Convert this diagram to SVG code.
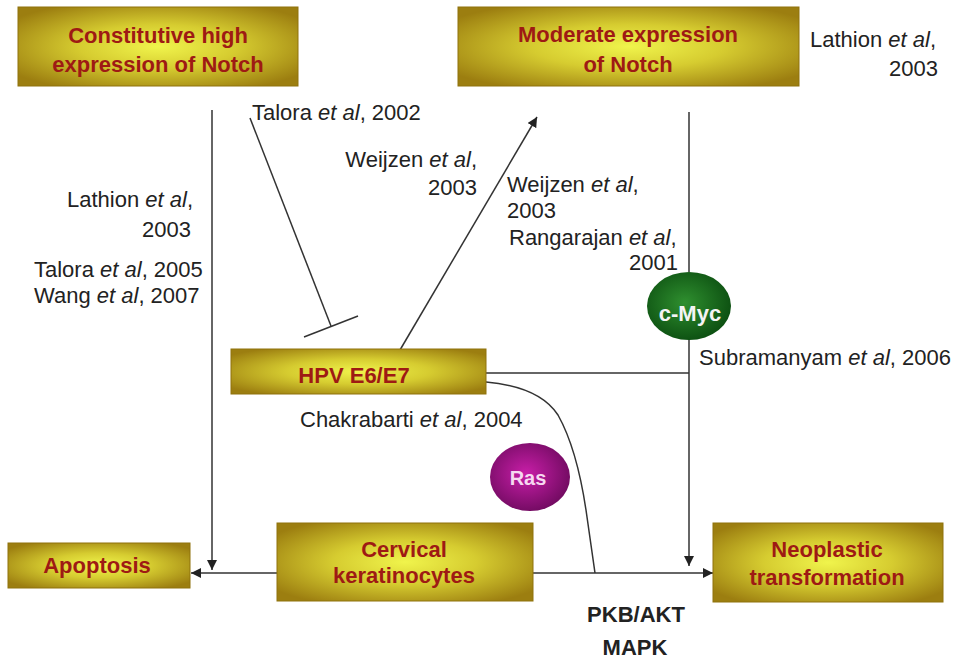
<svg xmlns="http://www.w3.org/2000/svg" width="961" height="659" viewBox="0 0 961 659">
<defs>
<radialGradient id="gold" cx="0.5" cy="0.5" r="0.62">
<stop offset="0" stop-color="#f0f44c"/>
<stop offset="0.45" stop-color="#d6cc30"/>
<stop offset="1" stop-color="#9c7e10"/>
</radialGradient>
<radialGradient id="green" cx="0.45" cy="0.45" r="0.6">
<stop offset="0" stop-color="#2f8f2f"/>
<stop offset="1" stop-color="#0b4d10"/>
</radialGradient>
<radialGradient id="magenta" cx="0.45" cy="0.45" r="0.6">
<stop offset="0" stop-color="#c81ea8"/>
<stop offset="1" stop-color="#6e0a5e"/>
</radialGradient>
<marker id="arr" viewBox="0 0 10 10" refX="10" refY="5" markerWidth="10" markerHeight="10" markerUnits="userSpaceOnUse" orient="auto">
<path d="M0,0 L10,5 L0,10 z" fill="#222"/>
</marker>
</defs>
<style>
.box{fill:url(#gold);stroke:#8f730c;stroke-width:1}
.bt{font-family:"Liberation Sans",Arial,sans-serif;font-weight:bold;font-size:22px;fill:#9e1a14;text-anchor:middle}
.t{font-family:"Liberation Sans",Arial,sans-serif;font-size:22px;fill:#222}
.r{text-anchor:end}
.c{text-anchor:middle}
.b{font-weight:bold}
.ln{fill:none;stroke:#333;stroke-width:1.5}
.a{marker-end:url(#arr)}
</style>
<rect width="961" height="659" fill="#fff"/>

<g id="connectors">
<line class="ln a" x1="212" y1="110" x2="212" y2="570"/>
<line class="ln a" x1="277" y1="573" x2="191" y2="573"/>
<line class="ln a" x1="533" y1="573" x2="713" y2="573"/>
<line class="ln" x1="250" y1="118" x2="331" y2="326"/>
<line class="ln" x1="304" y1="337" x2="358" y2="316"/>
<line class="ln a" x1="400" y1="350" x2="537" y2="117"/>
<line class="ln" x1="689" y1="112" x2="689" y2="272"/>
<line class="ln a" x1="689" y1="340" x2="689" y2="566"/>
<line class="ln" x1="486" y1="373" x2="689" y2="373"/>
<path class="ln" d="M486,382 C520,385 545,395 558,415 C572,440 580,470 586,510 L595,573"/>
</g>

<g id="constitutive">
<rect class="box" x="18" y="7" width="280" height="79"/>
<text class="bt" x="158" y="43">Constitutive high</text>
<text class="bt" x="158" y="72">expression of Notch</text>
</g>

<g id="moderate">
<rect class="box" x="458" y="7" width="341" height="79"/>
<text class="bt" x="628" y="42">Moderate expression</text>
<text class="bt" x="628" y="72">of Notch</text>
</g>

<g id="hpv">
<rect class="box" x="231" y="349" width="255" height="45"/>
<text class="bt" x="354" y="383">HPV E6/E7</text>
</g>

<g id="apoptosis">
<rect class="box" x="8" y="543" width="182" height="45"/>
<text class="bt" x="97" y="573">Apoptosis</text>
</g>

<g id="cervical">
<rect class="box" x="277" y="523" width="256" height="78"/>
<text class="bt" x="404" y="557">Cervical</text>
<text class="bt" x="404" y="583">keratinocytes</text>
</g>

<g id="neoplastic">
<rect class="box" x="713" y="523" width="230" height="79"/>
<text class="bt" x="827" y="557">Neoplastic</text>
<text class="bt" x="827" y="585">transformation</text>
</g>

<g id="cmyc">
<ellipse cx="689" cy="306" rx="42" ry="34" fill="url(#green)"/>
<text class="t b c" x="690" y="321" style="fill:#f4f4f4">c-Myc</text>
</g>

<g id="ras">
<ellipse cx="530" cy="477" rx="40" ry="34" fill="url(#magenta)"/>
<text class="t b c" x="528" y="485" style="fill:#f6d8f0;font-size:20px">Ras</text>
</g>

<g id="labels">
<text class="t" x="252" y="120">Talora <tspan font-style="italic">et al</tspan>, 2002</text>
<text class="t r" x="477" y="167">Weijzen <tspan font-style="italic">et al</tspan>,</text>
<text class="t r" x="477" y="195">2003</text>
<text class="t" x="507" y="192">Weijzen <tspan font-style="italic">et al</tspan>,</text>
<text class="t" x="507" y="218">2003</text>
<text class="t" x="509" y="245">Rangarajan <tspan font-style="italic">et al</tspan>,</text>
<text class="t r" x="678" y="270">2001</text>
<text class="t r" x="193" y="207">Lathion <tspan font-style="italic">et al</tspan>,</text>
<text class="t r" x="191" y="237">2003</text>
<text class="t" x="34" y="277">Talora <tspan font-style="italic">et al</tspan>, 2005</text>
<text class="t" x="34" y="303">Wang <tspan font-style="italic">et al</tspan>, 2007</text>
<text class="t" x="810" y="47">Lathion <tspan font-style="italic">et al</tspan>,</text>
<text class="t r" x="938" y="76">2003</text>
<text class="t" x="699" y="365">Subramanyam <tspan font-style="italic">et al</tspan>, 2006</text>
<text class="t" x="300" y="427">Chakrabarti <tspan font-style="italic">et al</tspan>, 2004</text>
<text class="t b c" x="636" y="622">PKB/AKT</text>
<text class="t b c" x="635" y="655">MAPK</text>
</g>
</svg>
